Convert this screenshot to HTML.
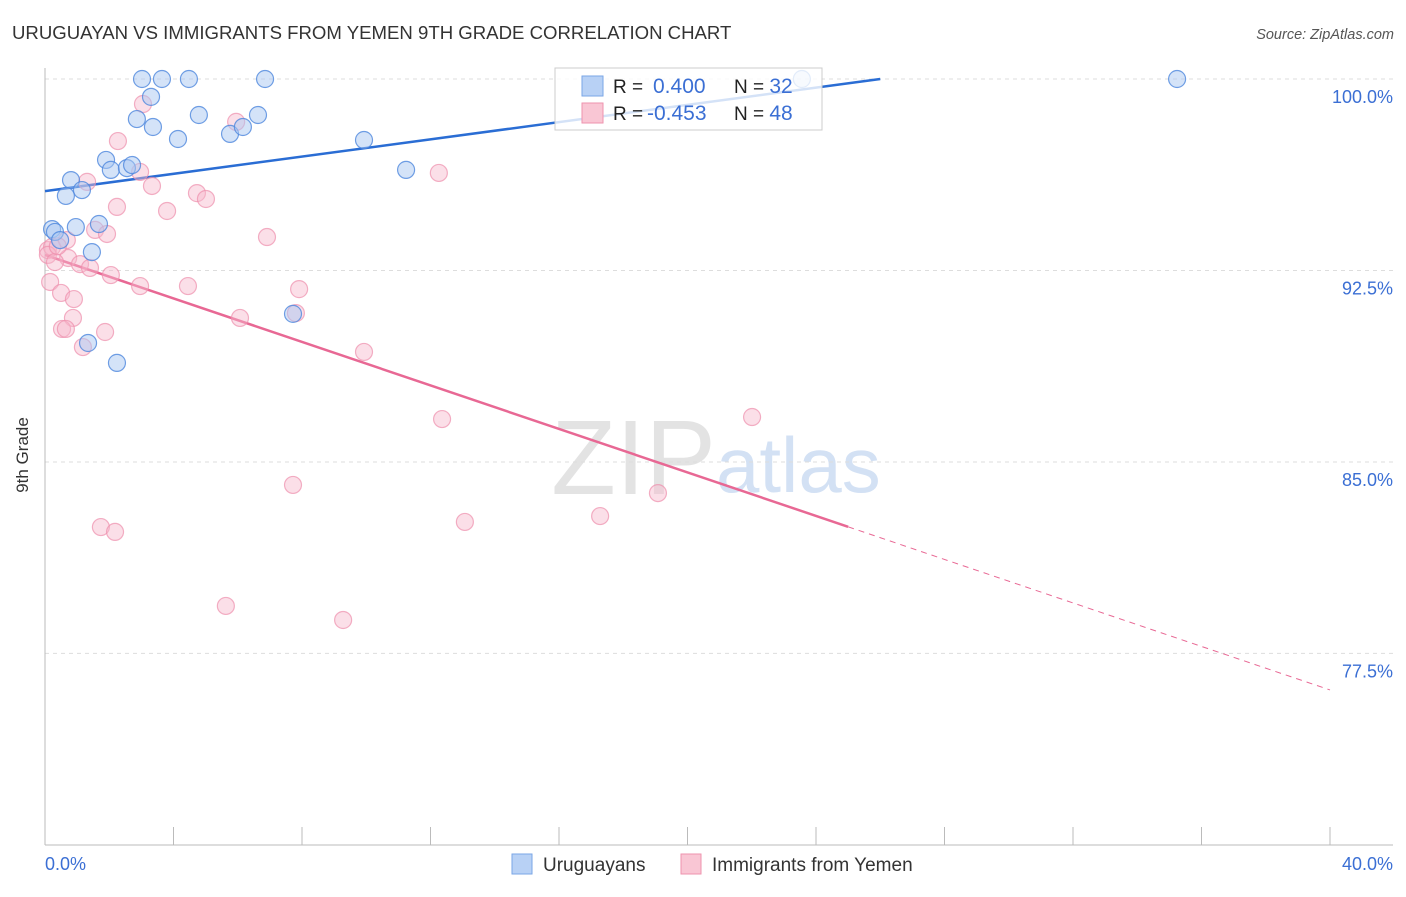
<!DOCTYPE html>
<html><head><meta charset="utf-8"><style>
body{margin:0;background:#fff;font-family:"Liberation Sans",sans-serif}
svg text{font-family:"Liberation Sans",sans-serif}
</style></head><body>
<svg width="1406" height="892">
<text x="12" y="39" font-size="18.6" fill="#333">URUGUAYAN VS IMMIGRANTS FROM YEMEN 9TH GRADE CORRELATION CHART</text>
<text x="1394" y="39" font-size="14.5" fill="#555" text-anchor="end" font-style="italic">Source: ZipAtlas.com</text>
<text x="716" y="494" font-size="106" fill="#ddd" text-anchor="end" font-family="Liberation Serif" opacity="0.8">ZIP</text>
<text x="716" y="492" font-size="78" fill="#c9daf2" opacity="0.8">atlas</text>
<g id="grid"></g><g id="axes"></g><g id="trend"></g><g id="pts"></g>
<g>
<rect x="555" y="68" width="267" height="62" fill="#fff" fill-opacity="0.8" stroke="#ccc"/>
<rect x="582" y="76" width="21" height="20" fill="#b8d1f5" stroke="#7aa6e6"/>
<rect x="582" y="103" width="21" height="20" fill="#f9c6d4" stroke="#ee93ae"/>
<text x="613" y="93" font-size="19" fill="#222">R = <tspan fill="#3b6fd4" x="653" font-size="21">0.400</tspan><tspan x="734" fill="#222">N = </tspan><tspan fill="#3b6fd4" font-size="21">32</tspan></text>
<text x="613" y="120" font-size="19" fill="#222">R = <tspan fill="#3b6fd4" x="647" font-size="21">-0.453</tspan><tspan x="734" fill="#222">N = </tspan><tspan fill="#3b6fd4" font-size="21">48</tspan></text>
</g>
<text x="28" y="455" font-size="17" fill="#333" text-anchor="middle" transform="rotate(-90 28 455)">9th Grade</text>
<text x="45" y="870" font-size="18" fill="#3b6fd4">0.0%</text>
<text x="1393" y="870" font-size="18" fill="#3b6fd4" text-anchor="end">40.0%</text>
<g>
<rect x="512" y="854" width="20" height="20" fill="#b8d1f5" stroke="#7aa6e6"/>
<text x="543" y="871" font-size="19" fill="#333">Uruguayans</text>
<rect x="681" y="854" width="20" height="20" fill="#f9c6d4" stroke="#ee93ae"/>
<text x="712" y="871" font-size="19" fill="#333">Immigrants from Yemen</text>
</g>
</svg>
<script>
const yTicks=[100,92.5,85,77.5];
const yTickLabels=["100.0%","92.5%","85.0%","77.5%"];
const blueX=[3.02,3.64,4.48,6.85,23.56,35.24,3.30,2.86,3.36,4.79,6.63,4.14,5.76,6.16,9.93,1.90,2.05,2.55,2.71,11.24,0.81,1.15,0.65,0.22,0.31,0.96,1.68,0.47,1.46,7.72,1.34,2.24];
const blueY=[100,100,100,100,100,100,99.3,98.43,98.12,98.59,98.59,97.65,97.85,98.12,97.61,96.83,96.44,96.51,96.63,96.44,96.04,95.65,95.42,94.12,94.01,94.20,94.32,93.69,93.22,90.80,89.66,88.88];
const pinkX=[3.05,2.27,5.95,2.96,1.31,3.33,4.73,5.01,2.24,3.80,0.09,0.22,0.68,0.72,1.09,1.56,1.93,1.40,2.05,2.96,4.45,7.91,6.91,0.16,0.50,0.90,0.87,0.53,0.65,1.18,1.87,6.07,7.81,9.93,12.26,12.36,22.01,7.72,19.08,17.28,13.07,1.74,2.18,5.63,9.28,0.09,0.31,0.40];
const pinkY=[99.02,97.57,98.32,96.36,95.97,95.81,95.53,95.30,94.99,94.83,93.30,93.42,93.69,92.99,92.75,94.09,93.93,92.60,92.32,91.89,91.89,91.77,93.81,92.05,91.62,91.38,90.64,90.21,90.21,89.50,90.09,90.64,90.83,89.31,96.32,86.68,86.76,84.10,83.78,82.88,82.65,82.45,82.26,79.36,78.81,93.11,92.83,93.45];
const blueTrend=[[0,95.61],[26,100]];
const pinkTrend=[[0,93.11],[25,82.46],[40,76.07]];
const NS="http://www.w3.org/2000/svg";
const X=v=>45+v*32.125, Y=v=>79+(100-v)*25.53;
function mk(t,a,p){const e=document.createElementNS(NS,t);for(const k in a)e.setAttribute(k,a[k]);document.getElementById(p).appendChild(e);return e;}
yTicks.forEach((t,i)=>{
 const l=mk('line',{x1:45,x2:1393,y1:Y(t),y2:Y(t),stroke:'#ddd','stroke-dasharray':'4 4'},'grid');
 
 
 const tx=mk('text',{x:1393,y:Y(t)+24,'font-size':18,fill:'#3b6fd4','text-anchor':'end'},'grid');
 tx.textContent=yTickLabels[i];
 
 
});
let a=mk('line',{x1:45,x2:45,y1:68,y2:845,stroke:'#bbb'},'axes');


a=mk('line',{x1:45,x2:1393,y1:845,y2:845,stroke:'#bbb'},'axes');


for(let i=0;i<=10;i++){const t=mk('line',{x1:X(i*4),x2:X(i*4),y1:827,y2:845,stroke:'#bbb'},'axes');
 
 }
let ln=mk('line',{x1:X(blueTrend[0][0]),y1:Y(blueTrend[0][1]),x2:X(blueTrend[1][0]),y2:Y(blueTrend[1][1]),stroke:'#2a6dd4','stroke-width':2.5},'trend');


ln=mk('line',{x1:X(pinkTrend[0][0]),y1:Y(pinkTrend[0][1]),x2:X(pinkTrend[1][0]),y2:Y(pinkTrend[1][1]),stroke:'#e86894','stroke-width':2.5},'trend');


ln=mk('line',{x1:X(pinkTrend[1][0]),y1:Y(pinkTrend[1][1]),x2:X(pinkTrend[2][0]),y2:Y(pinkTrend[2][1]),stroke:'#e86894','stroke-width':1,'stroke-dasharray':'6 5'},'trend');


pinkX.forEach((x,i)=>{const c=mk('circle',{cx:X(x),cy:Y(pinkY[i]),r:8.5,fill:'#f7b8cb','fill-opacity':0.45,stroke:'#ee8fac','stroke-opacity':0.7,'stroke-width':1.2},'pts');
 
 });
blueX.forEach((x,i)=>{const c=mk('circle',{cx:X(x),cy:Y(blueY[i]),r:8.5,fill:'#a9c8f2','fill-opacity':0.5,stroke:'#4d87dd','stroke-opacity':0.8,'stroke-width':1.2},'pts');
 
 });
</script>
</body></html>
